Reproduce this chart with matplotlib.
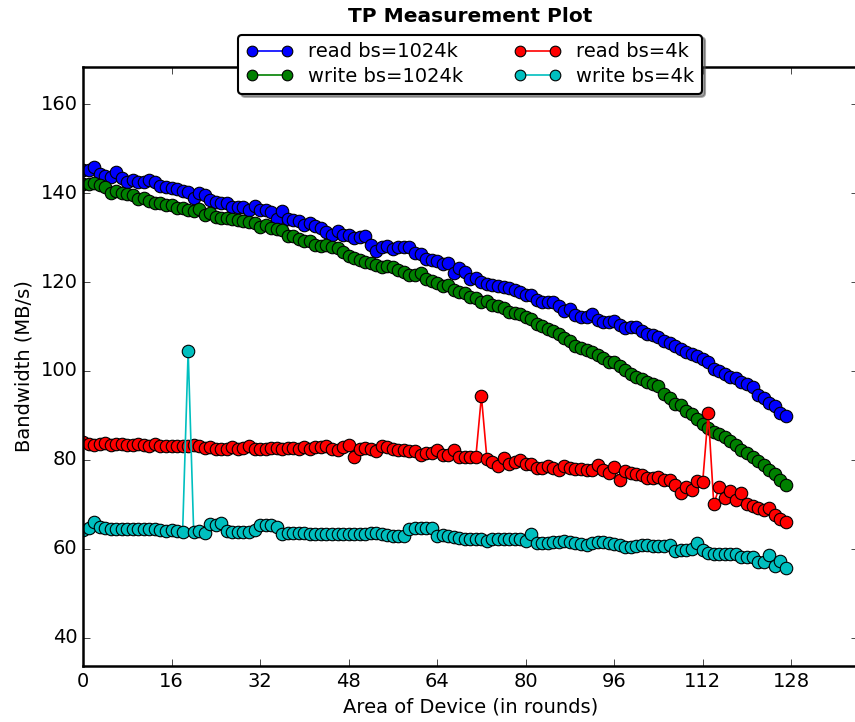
import numpy as np
import matplotlib
matplotlib.use('Agg')
import matplotlib.pyplot as plt

plt.style.use('classic')
plt.rcParams['font.family'] = ['DejaVu Sans']

# bandwidth per round (MB/s)
read_1024k = [
    145.3, 145.2, 146.0, 144.3, 143.9, 143.7, 144.7, 143.4, 142.5, 142.9,
    142.5, 142.5, 142.9, 142.5, 141.7, 141.5, 141.2, 141.0, 140.6, 140.2,
    138.9, 140.1, 139.5, 138.5, 138.0, 137.8, 137.8, 136.8, 136.8, 136.8,
    136.3, 137.2, 136.3, 136.3, 135.7, 134.3, 136.1, 134.1, 133.9, 133.7,
    132.8, 133.2, 132.6, 132.1, 131.3, 130.6, 131.5, 130.5, 130.5, 129.9,
    130.2, 130.3, 128.4, 127.0, 127.9, 128.2, 127.4, 127.8, 127.9, 127.8,
    126.6, 126.4, 125.2, 125.0, 124.8, 124.0, 124.2, 122.0, 123.1, 122.2,
    120.7, 121.0, 120.0, 119.6, 119.4, 119.2, 118.9, 118.6, 118.2, 117.7,
    117.1, 117.0, 116.0, 115.5, 115.5, 115.6, 114.7, 113.4, 114.0, 112.5,
    112.1, 112.2, 112.8, 111.5, 110.9, 110.9, 111.2, 110.4, 109.6, 109.8,
    109.8, 108.9, 108.4, 108.0, 107.6, 106.7, 106.2, 105.5, 104.9, 104.2,
    103.8, 103.3, 102.7, 102.0, 100.5, 100.0, 99.4, 98.7, 98.3, 97.6,
    97.0, 96.4, 94.6, 93.9, 92.7, 92.0, 90.6, 89.8,
]
write_1024k = [
    142.1, 142.1, 142.2, 141.8, 141.5, 140.0, 140.6, 140.0, 139.9, 139.5,
    138.6, 138.9, 138.2, 137.9, 137.7, 137.3, 137.3, 136.7, 136.6, 136.2,
    136.0, 136.4, 135.2, 135.5, 134.6, 134.4, 134.4, 134.2, 134.0, 133.7,
    133.5, 133.3, 132.5, 132.8, 132.2, 132.0, 131.8, 130.3, 130.3, 129.8,
    129.3, 129.2, 128.3, 128.1, 128.4, 127.8, 127.6, 126.8, 125.9, 125.5,
    124.9, 124.6, 124.2, 123.9, 123.5, 123.6, 123.5, 122.7, 122.2, 121.7,
    121.6, 122.0, 120.8, 120.3, 119.8, 119.2, 119.3, 118.3, 117.8, 117.6,
    116.7, 116.5, 115.6, 115.7, 114.8, 114.6, 114.2, 113.3, 113.1, 112.7,
    112.2, 111.6, 110.5, 110.0, 109.4, 108.9, 108.3, 107.5, 106.8, 105.5,
    105.1, 104.7, 104.3, 103.6, 103.0, 102.0, 102.1, 101.0, 100.3, 99.4,
    98.7, 98.1, 97.6, 97.0, 96.6, 94.7, 93.9, 92.6, 92.3, 91.0,
    90.2, 89.1, 88.1, 87.2, 86.3, 85.7, 85.1, 84.3, 83.4, 82.3,
    81.6, 80.6, 79.7, 78.8, 77.7, 76.7, 75.5, 74.4,
]
read_4k = [
    84.0, 83.6, 83.4, 83.6, 83.7, 83.4, 83.6, 83.6, 83.4, 83.4,
    83.6, 83.4, 83.2, 83.6, 83.2, 83.2, 83.2, 83.2, 83.2, 83.2,
    83.4, 83.2, 82.7, 82.8, 82.5, 82.5, 82.5, 82.8, 82.5, 82.7,
    83.0, 82.5, 82.5, 82.5, 82.7, 82.7, 82.5, 82.7, 82.7, 82.5,
    82.8, 82.5, 82.8, 82.8, 83.0, 82.5, 82.3, 82.9, 83.4, 80.7,
    82.5, 82.7, 82.5, 82.0, 83.0, 82.9, 82.5, 82.1, 82.1, 81.9,
    81.9, 81.0, 81.6, 81.6, 82.3, 81.0, 81.0, 82.1, 80.6, 80.6,
    80.6, 80.7, 94.3, 80.2, 79.4, 78.5, 80.5, 79.1, 79.5, 80.0,
    79.1, 79.1, 78.2, 78.2, 78.5, 78.2, 77.7, 78.5, 78.2, 78.0,
    78.0, 77.7, 77.7, 78.8, 77.8, 77.1, 78.3, 75.5, 77.5, 77.1,
    76.9, 76.6, 75.8, 76.0, 76.2, 75.4, 75.4, 74.3, 72.6, 73.8,
    73.2, 75.3, 75.1, 90.5, 70.0, 73.9, 71.3, 73.0, 70.9, 72.6,
    70.0, 69.6, 69.1, 68.6, 69.1, 67.6, 66.6, 66.1,
]
write_4k = [
    64.2, 64.6, 66.0, 64.9, 64.7, 64.4, 64.4, 64.5, 64.4, 64.4,
    64.5, 64.5, 64.4, 64.4, 64.1, 63.9, 64.1, 63.9, 63.8, 104.5,
    63.8, 64.0, 63.6, 65.5, 65.3, 65.7, 63.9, 63.8, 63.8, 63.8,
    63.8, 64.1, 65.3, 65.3, 65.3, 64.9, 63.2, 63.5, 63.6, 63.6,
    63.5, 63.3, 63.3, 63.3, 63.3, 63.4, 63.4, 63.3, 63.4, 63.4,
    63.3, 63.3, 63.6, 63.6, 63.4, 63.1, 62.9, 62.8, 62.8, 64.5,
    64.6, 64.6, 64.6, 64.6, 62.8, 63.1, 62.8, 62.6, 62.4, 62.2,
    62.2, 62.2, 62.2, 61.8, 62.2, 62.2, 62.2, 62.2, 62.2, 62.2,
    61.7, 63.3, 61.3, 61.3, 61.2, 61.5, 61.5, 61.7, 61.6, 61.3,
    61.0, 60.9, 61.2, 61.5, 61.4, 61.3, 61.0, 60.8, 60.4, 60.3,
    60.6, 60.8, 60.8, 60.6, 60.6, 60.6, 60.8, 59.5, 59.6, 59.8,
    60.0, 61.2, 59.6, 59.0, 58.7, 58.7, 58.7, 58.9, 58.7, 58.2,
    58.1, 58.1, 57.0, 57.0, 58.5, 56.2, 57.3, 55.7,
]
rounds = np.arange(len(read_1024k))

series = [
    (read_1024k, 'b', 'read bs=1024k'),
    (write_1024k, 'g', 'write bs=1024k'),
    (read_4k, 'r', 'read bs=4k'),
    (write_4k, 'c', 'write bs=4k'),
]

fig = plt.figure(figsize=(8.55, 7.22), dpi=100, facecolor='white')
ax = fig.add_axes([0.0971, 0.0776, 0.906, 0.8296])

for vals, col, lab in series:
    ax.plot(rounds, vals, color=col, marker='o', markersize=9,
            markeredgecolor='black', markeredgewidth=0.8, linewidth=1.2,
            label=lab)

ax.set_xlim(0, 140)
ax.set_ylim(33.6, 168.4)
ax.set_xticks(np.arange(0, 129, 16))
ax.set_yticks(np.arange(40, 161, 20))
ax.tick_params(labelsize=14, length=5)
for sp in ax.spines.values():
    sp.set_linewidth(1.8)

ax.set_xlabel('Area of Device (in rounds)', fontsize=14)
ax.set_ylabel('Bandwidth (MB/s)', fontsize=14)
fig.text(0.55, 1 - 16 / 722, 'TP Measurement Plot', ha='center', va='center',
         fontsize=14.5, fontweight='bold')

leg = ax.legend(loc='upper center', bbox_to_anchor=(0.5, 1.054), ncol=2,
                borderaxespad=0, fontsize=14, shadow=True, fancybox=True,
                numpoints=2, handlelength=2.4, columnspacing=2.6,
                labelspacing=0.3, handletextpad=0.8, markerscale=0.85)
leg.get_frame().set_linewidth(1.5)

fig.savefig('out.png', dpi=100, facecolor='white')
